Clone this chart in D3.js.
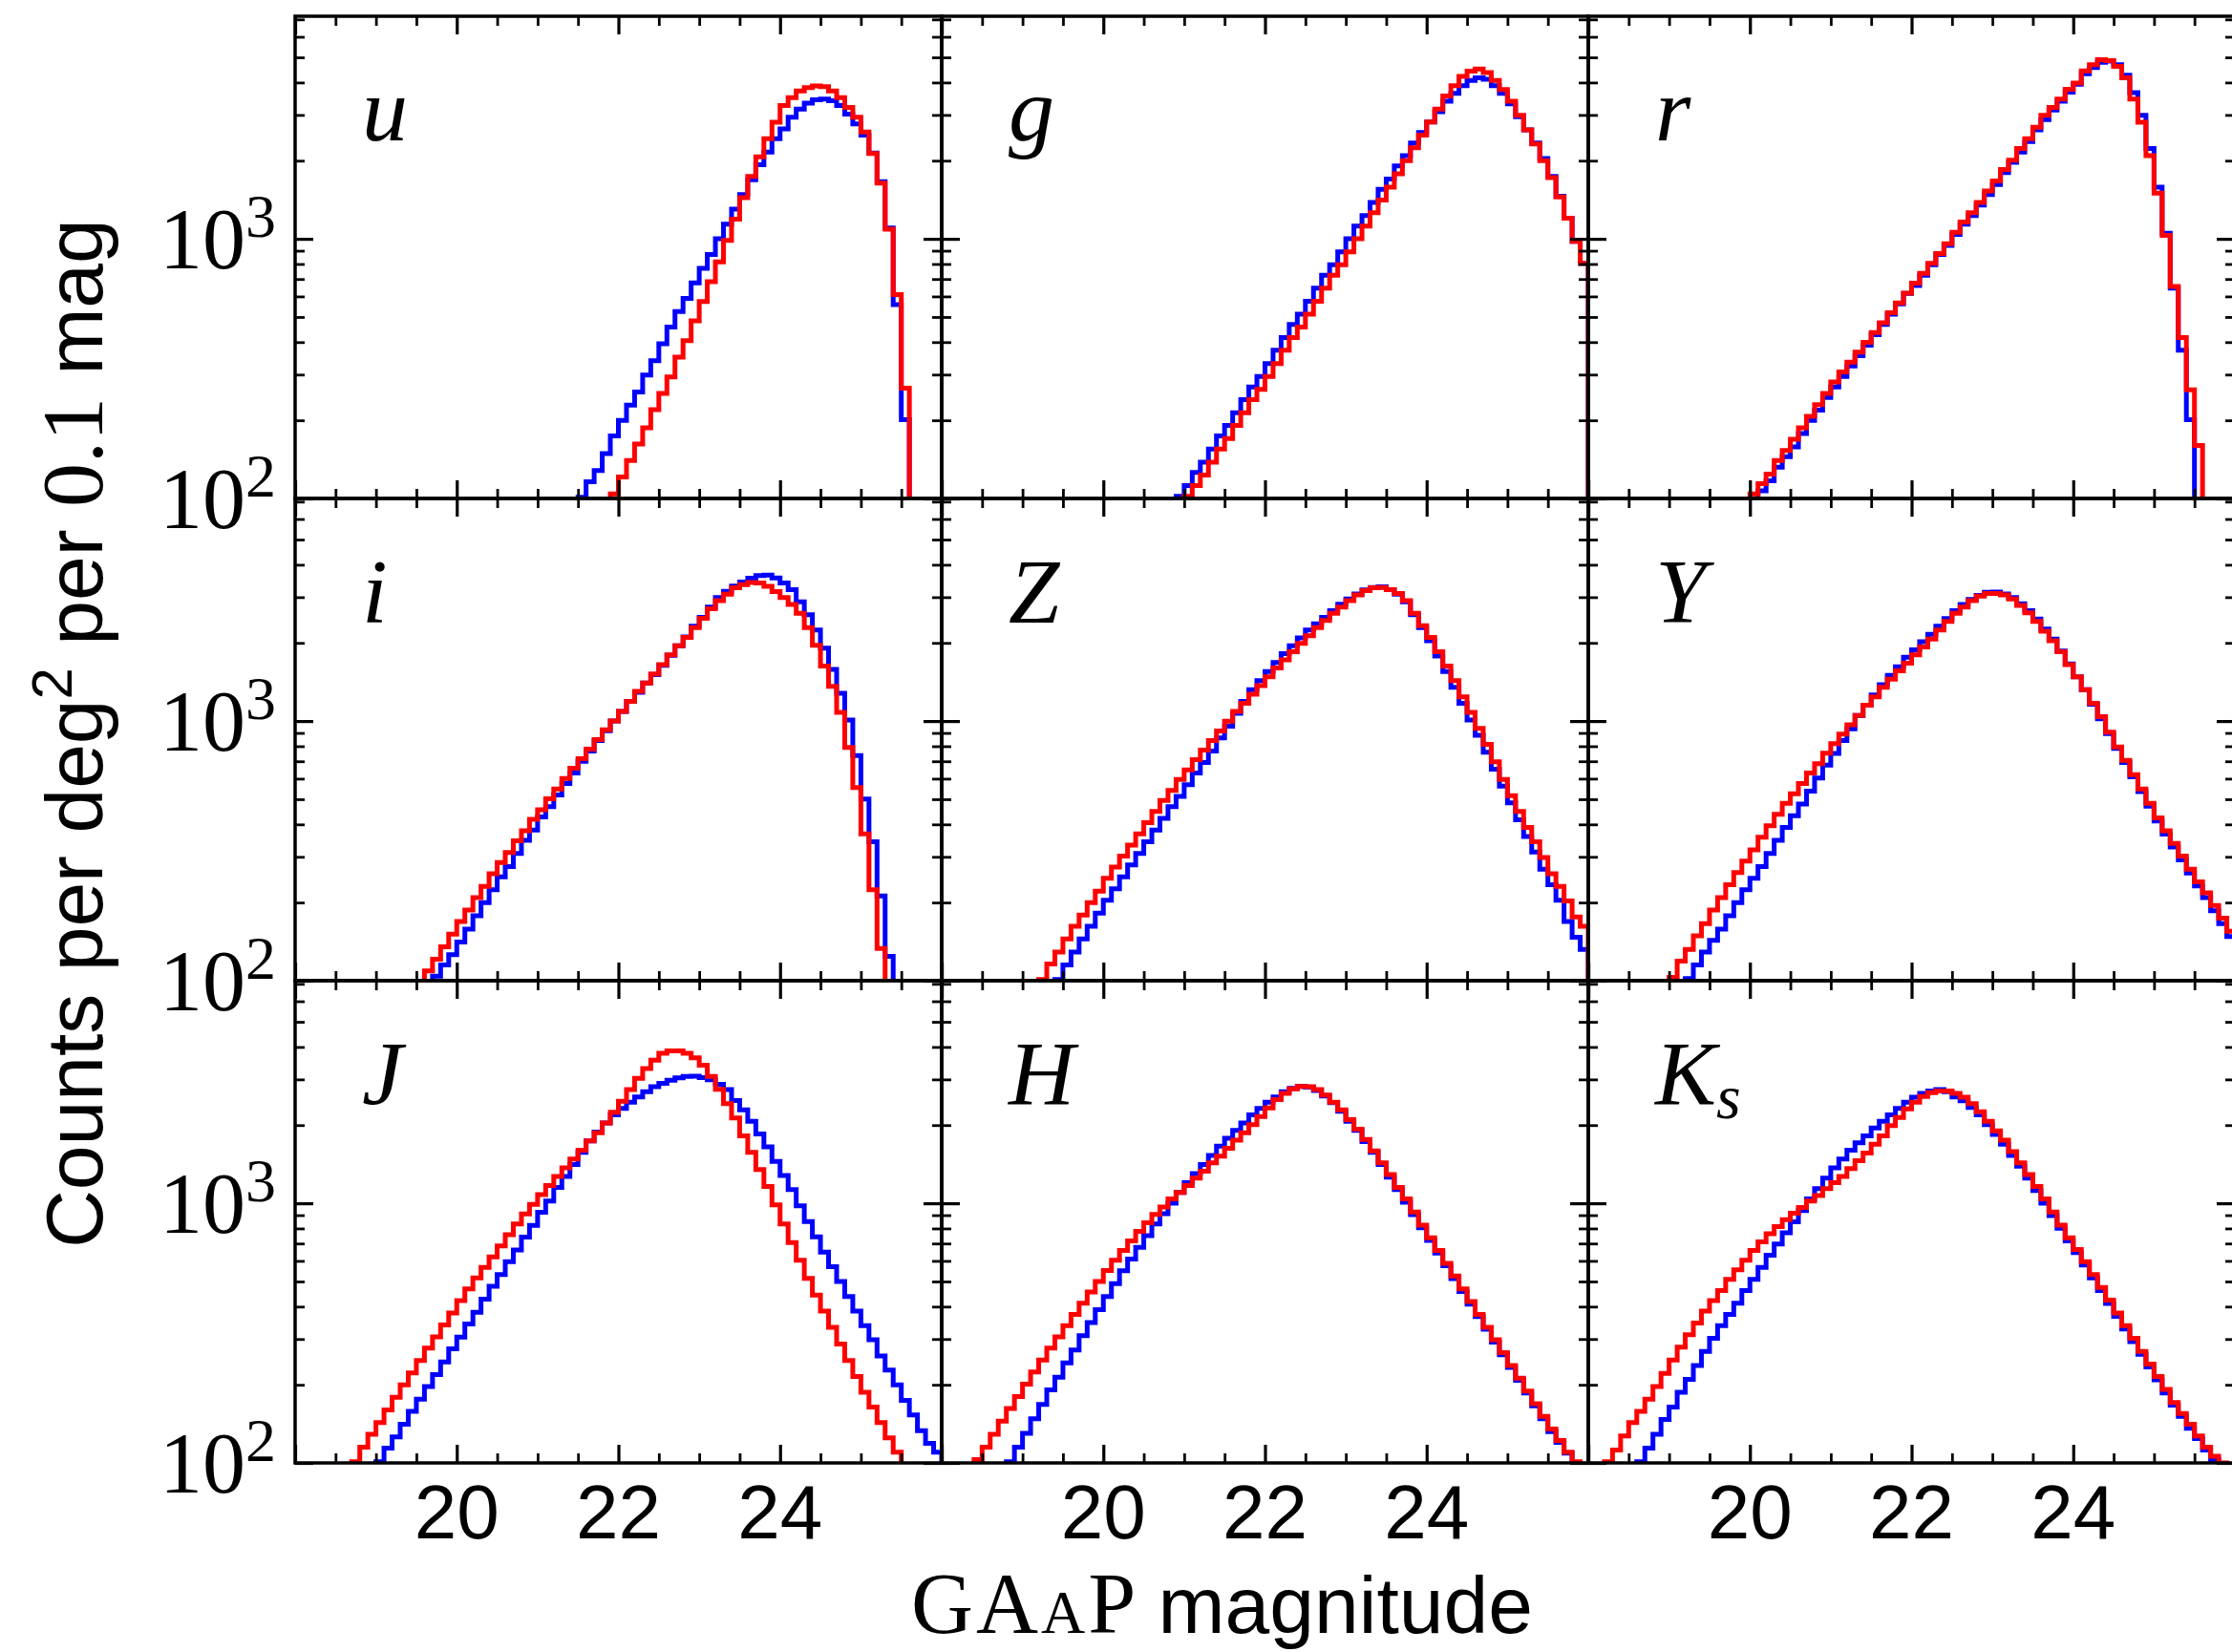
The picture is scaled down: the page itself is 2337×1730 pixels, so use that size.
<!DOCTYPE html>
<html>
<head>
<meta charset="utf-8">
<script src="https://cdn.jsdelivr.net/npm/d3@7/dist/d3.min.js"></script>
<style>
  html, body { margin: 0; padding: 0; background: #fff; }
  svg { display: block; }
</style>
</head>
<body>
<svg id="fig" width="2337" height="1730"></svg>
<script>
// ---------------------------------------------------------------
// Number counts per deg^2 per 0.1 mag, one histogram per band.
// Each series = left edge of its first 0.1-mag bin + bin counts.
// ---------------------------------------------------------------
const binWidth = 0.1;
const bands = ["u", "g", "r", "i", "Z", "Y", "J", "H", "Ks"];
const blueStart = [21.5, 20.9, 20.1, 19.7, 19.4, 19.2, 19.0, 18.8, 18.6];
const redStart  = [21.9, 21.0, 20.0, 19.6, 19.2, 19.0, 18.7, 18.4, 18.2];

const u_blue = [101,116,128,149,174,200,229,257,299,339,394,457,525,589,676,769,871,1000,1140,1300,1480,1690,1930,2160,2430,2650,2940,3160,3330,3430,3450,3400,3260,3020,2770,2510,2140,1660,1100,558,201];
const u_red  = [104,121,140,162,187,220,254,294,350,405,483,574,684,815,986,1190,1440,1740,2070,2430,2810,3260,3500,3715,3820,3880,3855,3715,3500,3210,2940,2580,2130,1640,1090,610,266];

const g_blue = [102,112,126,138,155,174,191,214,240,269,295,331,372,417,468,513,575,646,724,794,891,1000,1120,1230,1380,1550,1700,1910,2090,2340,2570,2820,3090,3390,3630,3890,4070,4170,4120,3890,3630,3310,2950,2630,2340,2040,1740,1460,1200,977,804];
const g_red  = [102,112,123,138,155,170,191,214,240,263,295,331,372,417,457,513,575,646,724,794,891,1000,1120,1260,1410,1580,1780,2000,2240,2510,2820,3160,3550,3890,4220,4420,4510,4370,4070,3760,3390,2990,2630,2320,2000,1720,1450,1200,977,804];

const r_blue = [107,117,132,145,158,178,200,219,245,269,295,324,355,389,427,468,513,562,617,661,724,794,871,944,1040,1140,1230,1350,1480,1620,1800,1970,2160,2370,2630,2880,3130,3390,3670,3940,4320,4570,4790,4840,4680,4270,3660,2990,2230,1580,1050,646,372,201];
const r_red  = [104,114,124,140,153,169,187,207,230,254,281,307,335,366,399,436,475,519,566,618,675,736,804,877,957,1060,1160,1260,1380,1530,1670,1850,2010,2230,2430,2690,2990,3210,3450,3770,3980,4430,4680,4900,4860,4620,4170,3450,2810,2090,1500,1030,655,417,262,160];

const i_blue = [104,115,126,141,158,178,200,224,251,275,309,347,380,427,468,519,575,631,700,767,841,918,1000,1090,1190,1290,1400,1510,1640,1790,1950,2110,2320,2510,2750,2990,3160,3310,3430,3550,3630,3650,3560,3400,3210,2880,2570,2240,1910,1580,1280,1010,736,501,343,212,124];
const i_red  = [109,121,135,151,169,187,209,231,258,285,312,346,378,418,455,502,547,601,658,716,780,849,925,1000,1090,1190,1300,1400,1520,1650,1800,1950,2100,2290,2490,2710,2910,3080,3260,3350,3420,3400,3300,3150,2990,2810,2600,2290,1960,1630,1360,1080,791,555,368,224,133];

const Z_blue = [101,115,129,145,162,182,204,226,251,279,309,343,380,422,468,513,569,631,692,767,861,955,1070,1190,1320,1430,1550,1680,1820,1950,2090,2240,2370,2510,2660,2820,2950,3090,3200,3270,3290,3210,3080,2880,2570,2290,2040,1780,1550,1350,1170,1010,881,759,653,562,484,417,359,313,269,234,204,169,147,132];
const Z_red  = [101,116,129,145,162,179,200,221,248,274,302,333,368,406,449,495,540,596,649,710,773,841,916,998,1090,1170,1270,1370,1480,1600,1720,1850,1990,2130,2290,2440,2600,2750,2910,3060,3180,3260,3270,3210,3100,2910,2600,2330,2100,1850,1630,1430,1240,1080,938,813,697,596,516,449,389,343,298,258,231,203,176,162];

const Y_blue = [102,115,129,143,158,178,200,224,248,275,309,347,389,432,479,537,603,676,750,841,933,1050,1150,1260,1380,1500,1620,1760,1880,2020,2160,2320,2480,2660,2810,2940,3050,3130,3140,3090,2990,2830,2660,2470,2260,2070,1860,1660,1480,1320,1160,1020,895,785,692,610,535,470,412,367,327,292,260,232,209,186,166,148];
const Y_red  = [103,119,132,149,166,187,209,234,261,289,319,357,395,437,482,525,575,631,685,752,818,891,968,1050,1150,1240,1350,1450,1560,1670,1800,1930,2070,2240,2420,2600,2750,2910,3030,3100,3100,3060,2950,2790,2610,2420,2220,2040,1850,1650,1480,1320,1170,1040,906,794,706,621,547,482,424,378,338,302,269,240,218,195,174,155];

const J_blue = [101,114,126,141,158,176,197,219,245,275,305,343,380,427,479,531,596,661,741,822,923,1020,1150,1270,1410,1570,1740,1880,2040,2190,2320,2450,2570,2690,2810,2900,2980,3040,3080,3090,3050,2990,2870,2740,2490,2290,2070,1850,1650,1450,1280,1130,977,851,743,649,570,500,437,384,338,298,258,228,200,174,153,133,119,110];
const J_red  = [101,115,129,143,160,179,200,222,248,277,306,340,378,422,468,516,566,621,685,757,832,910,991,1080,1170,1270,1370,1480,1600,1740,1870,2040,2240,2470,2740,3030,3300,3560,3780,3860,3860,3780,3630,3400,3080,2750,2420,2130,1820,1570,1350,1160,986,832,706,604,514,443,384,333,287,248,215,187,164,143,125,110];

const H_blue = [101,115,130,148,168,191,214,243,272,309,347,389,437,490,550,610,676,750,832,912,1000,1100,1200,1300,1410,1530,1660,1780,1910,2040,2190,2320,2450,2570,2690,2770,2820,2800,2720,2590,2440,2260,2070,1910,1730,1570,1410,1260,1130,1010,904,805,719,643,575,513,457,409,366,327,292,261,233,208,186,166,148,132,120,109];
const H_red  = [103,115,129,145,162,180,201,224,249,277,306,338,373,412,455,500,551,603,658,716,780,841,906,968,1040,1100,1170,1250,1330,1430,1520,1630,1750,1870,2010,2160,2330,2510,2650,2760,2820,2810,2740,2610,2450,2290,2100,1930,1760,1590,1430,1290,1150,1040,925,824,736,658,587,525,468,418,373,333,298,266,237,212,189,169,151,135,122,110,101];

const Ks_blue = [101,114,129,147,164,187,210,237,269,302,338,373,412,461,509,566,631,697,769,849,938,1040,1140,1250,1370,1480,1600,1710,1820,1950,2070,2190,2320,2450,2560,2650,2710,2740,2690,2570,2480,2340,2190,2010,1840,1690,1530,1390,1250,1120,1000,897,802,716,646,578,516,461,411,367,328,293,262,234,209,186,167,151,136,124,112,103];
const Ks_red  = [101,112,127,143,158,176,197,221,249,279,312,346,384,422,461,509,555,604,658,710,764,813,865,916,964,1020,1070,1140,1200,1270,1360,1460,1560,1690,1820,1990,2140,2310,2450,2580,2670,2710,2710,2650,2560,2420,2250,2070,1900,1750,1580,1430,1290,1160,1040,925,824,736,664,596,532,474,424,378,338,302,269,240,215,192,171,155,141,127,115,106,100];

const blueCounts = [u_blue, g_blue, r_blue, i_blue, Z_blue, Y_blue, J_blue, H_blue, Ks_blue];
const redCounts  = [u_red,  g_red,  r_red,  i_red,  Z_red,  Y_red,  J_red,  H_red,  Ks_red];

// axis ticks and labels
const xMajor = [18, 20, 22, 24, 26];
const xMinor = [18.5, 19, 19.5, 20.5, 21, 21.5, 22.5, 23, 23.5, 24.5, 25, 25.5];
const xTickLabels = [20, 22, 24];
const yMajor = [100, 1000];
const yMinor = [200, 300, 400, 500, 600, 700, 800, 900, 2000, 3000, 4000, 5000, 6000, 7000];
const yTickLabels = [{v: 1000, e: "3"}, {v: 100, e: "2"}];

// ---------------------------------------------------------------
// layout
// ---------------------------------------------------------------
const W = 2337, H = 1730;
const left0 = 309, top0 = 17, panelW = 677, panelH = 505;
const serif = "'Liberation Serif', 'DejaVu Serif', serif";
const sans = "'Liberation Sans', Arial, 'DejaVu Sans', sans-serif";

const x = d3.scaleLinear().domain([18, 26]).range([0, panelW]);
const y = d3.scaleLog().domain([100, 7200]).range([panelH, 0]);
const yFloor = 30; // outline starts and ends below the plotted range

const svg = d3.select("#fig");
svg.append("rect").attr("width", W).attr("height", H).attr("fill", "#fff");

function stepPoints(start, counts) {
  const pts = [[start, yFloor]];
  counts.forEach((c, k) => pts.push([start + k * binWidth, c]));
  const end = start + counts.length * binWidth;
  pts.push([end, counts[counts.length - 1]]);
  pts.push([end, yFloor]);
  return pts;
}
const stepLine = d3.line()
  .x(d => x(d[0]))
  .y(d => y(d[1]))
  .curve(d3.curveStepAfter);

function drawTicks(g, axis, size, width) {
  g.call(axis.tickSize(size).tickFormat(""))
   .attr("color", "#000");
  g.select(".domain").remove();
  g.selectAll(".tick line").attr("stroke-width", width);
}

const defs = svg.append("defs");

bands.forEach((band, i) => {
  const col = i % 3, row = Math.floor(i / 3);
  const px = left0 + col * panelW, py = top0 + row * panelH;
  const panel = svg.append("g").attr("transform", `translate(${px},${py})`);

  defs.append("clipPath").attr("id", `clip-${i}`)
    .append("rect").attr("width", panelW).attr("height", panelH);

  const plot = panel.append("g").attr("clip-path", `url(#clip-${i})`);
  plot.append("path")
    .attr("d", stepLine(stepPoints(blueStart[i], blueCounts[i])))
    .attr("fill", "none").attr("stroke", "#0000ff")
    .attr("stroke-width", 5).attr("stroke-linejoin", "miter");
  plot.append("path")
    .attr("d", stepLine(stepPoints(redStart[i], redCounts[i])))
    .attr("fill", "none").attr("stroke", "#ff0000")
    .attr("stroke-width", 5).attr("stroke-linejoin", "miter");

  // inward ticks on all four sides
  drawTicks(panel.append("g").attr("transform", `translate(0,${panelH})`),
            d3.axisBottom(x).tickValues(xMajor), -19, 3.2);
  drawTicks(panel.append("g").attr("transform", `translate(0,${panelH})`),
            d3.axisBottom(x).tickValues(xMinor), -10, 2.8);
  drawTicks(panel.append("g"), d3.axisTop(x).tickValues(xMajor), -19, 3.2);
  drawTicks(panel.append("g"), d3.axisTop(x).tickValues(xMinor), -10, 2.8);
  drawTicks(panel.append("g"), d3.axisLeft(y).tickValues(yMajor), -19, 3.2);
  drawTicks(panel.append("g"), d3.axisLeft(y).tickValues(yMinor), -10, 2.8);
  drawTicks(panel.append("g").attr("transform", `translate(${panelW},0)`),
            d3.axisRight(y).tickValues(yMajor), -19, 3.2);
  drawTicks(panel.append("g").attr("transform", `translate(${panelW},0)`),
            d3.axisRight(y).tickValues(yMinor), -10, 2.8);

  panel.append("rect")
    .attr("width", panelW).attr("height", panelH)
    .attr("fill", "none").attr("stroke", "#000").attr("stroke-width", 3.5);

  // band name
  const lab = panel.append("text")
    .attr("x", 70).attr("y", 130)
    .attr("font-family", serif).attr("font-style", "italic")
    .attr("font-size", 96).attr("fill", "#000");
  if (band === "Ks") {
    lab.append("tspan").text("K");
    lab.append("tspan").attr("font-size", 66).attr("dy", 14).text("s");
  } else {
    lab.text(band);
  }

  // x tick labels on the bottom row
  if (row === 2) {
    xTickLabels.forEach(v => {
      panel.append("text")
        .attr("x", x(v)).attr("y", panelH + 79)
        .attr("text-anchor", "middle")
        .attr("font-family", sans).attr("font-size", 80)
        .attr("fill", "#000").text(v);
    });
  }
  // y tick labels on the left column
  if (col === 0) {
    yTickLabels.forEach(t => {
      const tx = panel.append("text")
        .attr("x", -20).attr("y", y(t.v) + 31)
        .attr("text-anchor", "end")
        .attr("font-family", serif).attr("fill", "#000");
      tx.append("tspan").attr("font-size", 90).text("10");
      tx.append("tspan").attr("font-size", 64).attr("dy", -33).text(t.e);
    });
  }
});

// axis titles
const yt = svg.append("text")
  .attr("transform", "translate(107,768) rotate(-90)")
  .attr("text-anchor", "middle").attr("fill", "#000")
  .attr("font-family", sans).attr("font-size", 84);
yt.append("tspan").text("Counts per deg");
yt.append("tspan").attr("font-size", 60).attr("dy", -32).text("2");
yt.append("tspan").attr("dy", 32).text(" per ");
yt.append("tspan").attr("font-family", serif).attr("font-size", 92).text("0.1");
yt.append("tspan").text(" mag");

const xt = svg.append("text")
  .attr("x", 954).attr("y", 1710)
  .attr("fill", "#000").attr("font-family", serif).attr("font-size", 90);
xt.append("tspan").attr("letter-spacing", 3).text("GA");
xt.append("tspan").attr("font-size", 64).attr("letter-spacing", 3).text("A");
xt.append("tspan").text("P");
xt.append("tspan").attr("font-family", sans).attr("font-size", 84).text(" magnitude");
</script>
</body>
</html>
